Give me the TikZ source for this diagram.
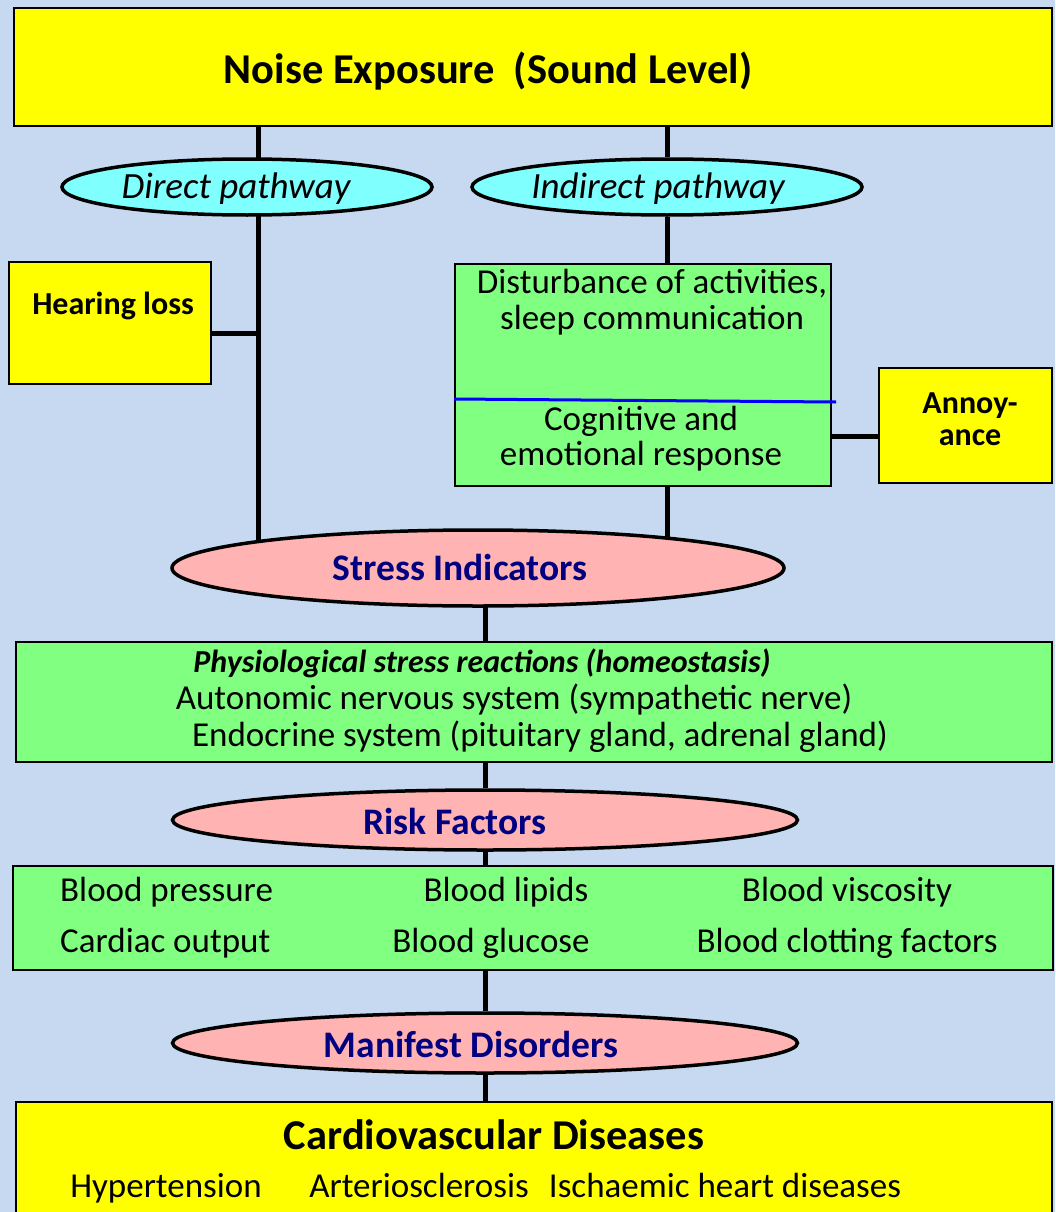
\documentclass[tikz,border=0pt]{standalone}
\usepackage{fontspec}
\setmainfont{Carlito}
\usetikzlibrary{shapes.geometric}
\pgfdeclarelayer{bg}
\pgfsetlayers{bg,main}
\definecolor{bgblue}{HTML}{C6D9F0}
\definecolor{boxyellow}{HTML}{FFFF00}
\definecolor{boxgreen}{HTML}{80FF80}
\definecolor{ovalcyan}{HTML}{80FFFF}
\definecolor{ovalpink}{HTML}{FFB3B3}
\definecolor{navytext}{HTML}{000080}

\begin{document}
\begin{tikzpicture}[x=1pt, y=-1pt,
    box/.style={rectangle, draw, line width=2pt, inner sep=0pt},
    oval/.style={ellipse, draw, line width=3.5pt, inner sep=0pt},
    link/.style={line width=5pt},
    txt/.style={inner sep=0pt, text height=22pt, text depth=0pt},
    reg/.style={txt, font=\fontsize{35}{40}\selectfont},
    head/.style={txt, font=\fontsize{37.5}{42}\selectfont\bfseries, text=navytext}]
    \useasboundingbox (0,0) rectangle (1055,1212);

    % boxes and ovals
    \node (noise) [box, fill=boxyellow, minimum width=1038pt, minimum height=118pt] at (533,67) {};
    \node (direct) [oval, fill=ovalcyan, minimum width=370pt, minimum height=56pt] at (247,187) {};
    \node (indirect) [oval, fill=ovalcyan, minimum width=390pt, minimum height=56pt] at (667,187) {};
    \node (hear) [box, fill=boxyellow, minimum width=202pt, minimum height=122pt] at (110,323) {};
    \node (indir) [box, fill=boxgreen, minimum width=376pt, minimum height=222pt] at (643,375) {};
    \node (annoy) [box, fill=boxyellow, minimum width=173pt, minimum height=115pt] at (965.5,425.5) {};
    \node (stress) [oval, fill=ovalpink, minimum width=612pt, minimum height=76pt] at (478,568) {};
    \node (physio) [box, fill=boxgreen, minimum width=1036pt, minimum height=120pt] at (534,702) {};
    \node (risk) [oval, fill=ovalpink, minimum width=625pt, minimum height=60pt] at (485,820) {};
    \node (riskbox) [box, fill=boxgreen, minimum width=1040pt, minimum height=104pt] at (533,918) {};
    \node (manifest) [oval, fill=ovalpink, minimum width=625pt, minimum height=60pt] at (485,1043) {};
    \node (cvd) [box, fill=boxyellow, minimum width=1036pt, minimum height=128pt] at (534,1166) {};

    % texts
    \node (tnoise) [txt, font=\fontsize{42.5}{48}\selectfont\bfseries] at (488,73) {Noise Exposure\ \ (Sound Level)};
    \node (tdirect) [txt, font=\fontsize{37}{42}\selectfont\itshape] at (236,187) {Direct pathway};
    \node (tindirect) [txt, font=\fontsize{37}{42}\selectfont\itshape] at (658,187) {Indirect pathway};
    \node (thear) [txt, font=\fontsize{32}{36}\selectfont\bfseries] at (113,303) {Hearing loss};
    \node (tdist1) [reg] at (652,282) {Disturbance of activities,};
    \node (tdist2) [reg] at (652,318) {sleep communication};
    \node (tcog1) [reg] at (641,419) {Cognitive and};
    \node (tcog2) [reg] at (641,454) {emotional response};
    \node (tann1) [txt, font=\fontsize{32}{36}\selectfont\bfseries] at (970,402) {Annoy-};
    \node (tann2) [txt, font=\fontsize{32}{36}\selectfont\bfseries] at (970,434) {ance};
    \node (tstress) [head] at (460,569) {Stress Indicators};
    \node (tphys1) [txt, font=\fontsize{32}{36}\selectfont\bfseries\itshape] at (482,661) {Physiological stress reactions (homeostasis)};
    \node (tphys2) [reg] at (514,698) {Autonomic nervous system (sympathetic nerve)};
    \node (tphys3) [reg] at (540,735) {Endocrine system (pituitary gland, adrenal gland)};
    \node (trisk) [head] at (455,823) {Risk Factors};
    \node (tbp) [reg, anchor=west] at (60,890) {Blood pressure};
    \node (tbl) [reg] at (506,890) {Blood lipids};
    \node (tbv) [reg] at (847,890) {Blood viscosity};
    \node (tco) [reg, anchor=west] at (60,941) {Cardiac output};
    \node (tbg) [reg] at (491,941) {Blood glucose};
    \node (tbc) [reg] at (847,941) {Blood clotting factors};
    \node (tman) [head] at (471,1046) {Manifest Disorders};
    \node (tcvd) [txt, font=\fontsize{42.5}{48}\selectfont\bfseries] at (494,1138) {Cardiovascular Diseases};
    \node (thyp) [reg] at (166,1186) {Hypertension};
    \node (tart) [reg] at (419,1186) {Arteriosclerosis};
    \node (tisc) [reg] at (725,1186) {Ischaemic heart diseases};

    % connectors (behind the boxes)
    \coordinate (dl) at (258,333);
    \coordinate (aj) at (855,436);
    \coordinate (cl) at (485,0);
    \begin{pgfonlayer}{bg}
        \fill[bgblue] (0,0) rectangle (1055,1212);
        \draw[link] (noise -| dl) -- (direct -| dl);
        \draw[link] (direct -| dl) -- (stress -| dl);
        \draw[link] (hear.east |- dl) -- (dl);
        \draw[link] (noise -| indirect) -- (indirect);
        \draw[link] (indirect) -- (indir -| indirect);
        \draw[link] (indir -| indirect) -- (stress -| indirect);
        \draw[link] (indir.east |- aj) -- (annoy.west |- aj);
        \draw[link] (stress -| cl) -- (physio -| cl);
        \draw[link] (physio -| risk) -- (risk);
        \draw[link] (risk) -- (riskbox -| risk);
        \draw[link] (riskbox -| manifest) -- (manifest);
        \draw[link] (manifest) -- (cvd -| manifest);
    \end{pgfonlayer}
    \draw[blue, line width=3pt] ([yshift=-24pt]indir.west) -- ([xshift=4pt, yshift=-27pt]indir.east);
\end{tikzpicture}
\end{document}
